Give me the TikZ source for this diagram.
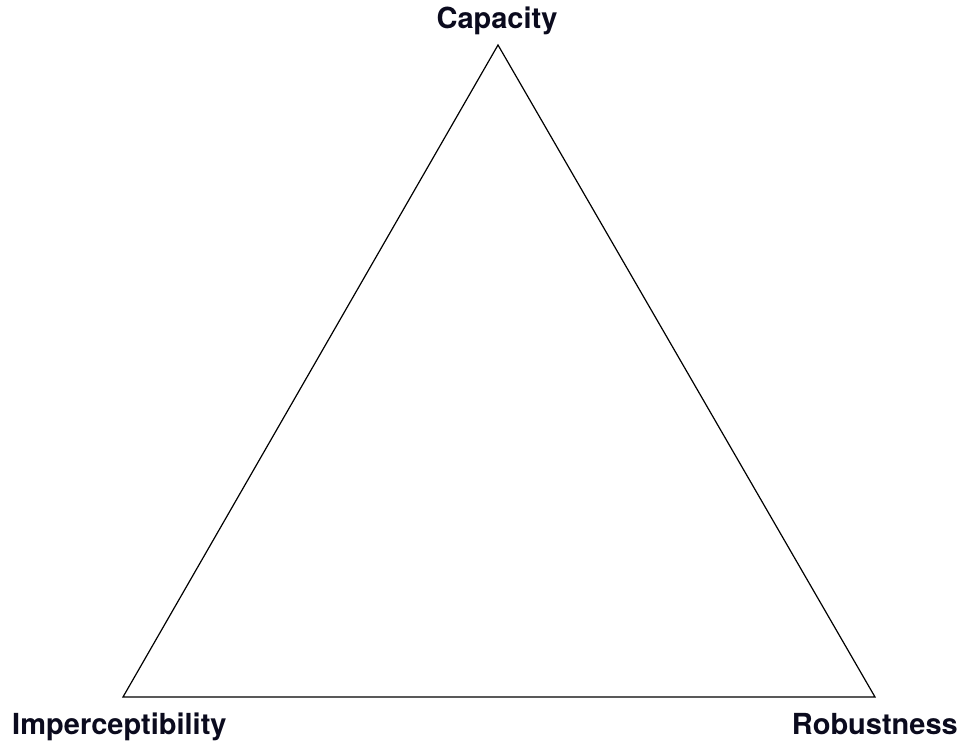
\documentclass[tikz,border=0pt]{standalone}
\usepackage{fontspec}
\setmainfont{TeX Gyre Heros}
\definecolor{labelink}{HTML}{0B0B1E}
\begin{document}
\begin{tikzpicture}[x=1pt,y=-1pt,
  lbl/.style={font=\fontsize{29}{32}\selectfont\bfseries, text=labelink, inner sep=0pt},
  edge/.style={draw=black, line width=1.2pt, line join=miter}]
\useasboundingbox (0,0) rectangle (967,751);
\coordinate (top) at (498,45);
\coordinate (bl) at (123,697);
\coordinate (br) at (875,697);
\draw[edge] (top) -- (bl) -- (br) -- cycle;
\node[lbl, anchor=base] (cap) at (497,28.5) {Capacity};
\node[lbl, anchor=base west] (imp) at (12,734.5) {Imperceptibility};
\node[lbl, anchor=base east] (rob) at (958,734.5) {Robustness};
\end{tikzpicture}
\end{document}
